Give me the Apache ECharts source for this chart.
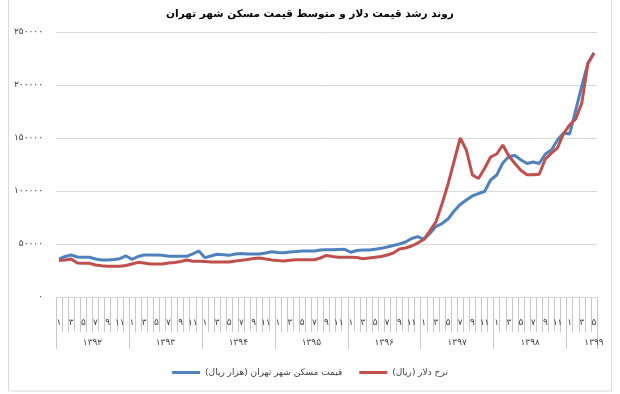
<!DOCTYPE html>
<html>
<head>
<meta charset="utf-8">
<script src="https://cdn.jsdelivr.net/npm/echarts@6/dist/echarts.min.js"></script>
<style>
html,body{margin:0;padding:0;background:#fff;}
#c{width:620px;height:394px;}
</style>
</head>
<body>
<div id="c"></div>
<script>
var title = 'روند رشد قیمت دلار و متوسط قیمت مسکن شهر تهران';
var years = ['۱۳۹۲','۱۳۹۳','۱۳۹۴','۱۳۹۵','۱۳۹۶','۱۳۹۷','۱۳۹۸','۱۳۹۹'];
var monthsPerYear = [12,12,12,12,12,12,12,5];
var seriesNames = ['\u200Fقیمت مسکن شهر تهران (هزار ریال)\u200F', '\u200Fنرخ دلار (ریال)\u200F'];
var yTicks = [0, 50000, 100000, 150000, 200000, 250000];

var housing = [
 35800,38200,39600,37700,37500,37500,35800,34900,34900,35400,36100,38700,
 35600,38200,39600,39600,39600,39300,38400,38400,38400,38400,40600,43400,
 37100,38700,40300,39800,39300,40600,41000,40600,40600,40600,41500,42700,
 42000,41800,42500,42900,43400,43400,43400,44300,44600,44600,44800,45000,
 42200,43900,44300,44300,45000,45900,47200,48600,50000,51900,55200,56900,
 54400,59900,66500,69300,73600,81100,87300,91500,95300,97600,99500,110400,
 115100,126400,132500,133500,129200,125900,127400,125900,134900,138700,148100,154700,
 153800,176400,199100,220500,230500
];
var dollar = [
 34400,34900,35800,32100,31900,31800,30200,29500,29100,29000,29000,29700,
 31100,32700,32100,31100,31100,31100,32100,32500,33500,34900,33700,33700,
 33500,33000,33000,33000,33000,34000,34600,35400,36300,36800,35800,34900,
 34400,34000,34600,35200,35200,35200,35200,36800,39200,38200,37500,37500,
 37500,37300,36100,36800,37500,38200,39600,41500,45300,46200,48100,50900,
 54200,62300,70800,87700,106600,128300,150000,138700,115100,111800,121200,132100,
 134900,143400,133000,125900,119300,115400,115400,115800,130200,135800,140600,154200,
 162300,167900,183000,220300,229900
];

var faDigits = ['۰','۱','۲','۳','۴','۵','۶','۷','۸','۹'];
function fa(n){ return String(n).replace(/[0-9]/g, function(d){ return faDigits[+d]; }); }

var categories = [];
var yearStarts = [];
var yearCenters = [];
var idx = 0;
for (var y = 0; y < years.length; y++) {
  yearStarts.push(idx);
  yearCenters.push(idx + (y === years.length - 1 ? 4.5 : 6));
  for (var m = 1; m <= monthsPerYear[y]; m++) { categories.push(fa(m)); idx++; }
}
yearStarts.push(idx);
var total = idx;

var FONT = 'DejaVu Sans';
var GRID = '#d9d9d9';
var TICK = '#c8c8c8';
var CLEAR = 'rgba(0,0,0,0)';
var chart = echarts.init(document.getElementById('c'), null, {renderer: 'canvas'});
chart.setOption({
  animation: false,
  title: {
    text: title, left: 'center', top: 4,
    textStyle: {fontSize: 10.5, fontWeight: 'bold', color: '#000', fontFamily: FONT}
  },
  legend: {
    bottom: 12, left: 'center', itemWidth: 28, itemHeight: 3, itemGap: 17,
    icon: 'rect',
    data: seriesNames,
    textStyle: {fontSize: 9, color: '#404040', fontFamily: FONT}
  },
  grid: [
    {left: 56, right: 23, top: 32, bottom: 97},
    {left: 56, right: 23, top: 297, height: 35},
    {left: 56, right: 23, top: 297, height: 52}
  ],
  xAxis: [{
    gridIndex: 0, type: 'category', data: categories,
    axisLine: {show: true, lineStyle: {color: GRID}},
    axisTick: {show: true, interval: 0, length: 35, lineStyle: {color: TICK, width: 1}},
    axisLabel: {interval: function(i){ return i % 2 === 0; }, margin: 21, fontSize: 9, color: '#404040', fontFamily: FONT}
  }, {
    gridIndex: 0, type: 'value', min: 0, max: total, position: 'bottom',
    axisLine: {show: false}, splitLine: {show: false},
    axisTick: {show: true, length: 52, customValues: yearStarts, lineStyle: {color: TICK, width: 1}},
    axisLabel: {
      customValues: yearCenters, margin: 41, fontSize: 9, color: '#404040', fontFamily: FONT,
      formatter: function(v){
        for (var k = 0; k < yearCenters.length; k++) if (Math.abs(yearCenters[k] - v) < 0.01) return years[k];
        return '';
      }
    }
  }, {
    gridIndex: 1, type: 'value', min: 0, max: total, interval: 1,
    axisLine: {show: false}, axisTick: {show: false}, axisLabel: {show: false},
    splitLine: {show: true, lineStyle: {color: TICK, width: 1}}
  }, {
    gridIndex: 2, type: 'value', min: 0, max: total, interval: 12,
    axisLine: {show: false}, axisTick: {show: false}, axisLabel: {show: false},
    splitLine: {show: true, lineStyle: {color: TICK, width: 1}}
  }],
  yAxis: [{
    gridIndex: 0, type: 'value', min: yTicks[0], max: yTicks[yTicks.length - 1], interval: 50000,
    axisLine: {show: false}, axisTick: {show: false},
    splitLine: {lineStyle: {color: [CLEAR, GRID, GRID, GRID, GRID, GRID]}},
    axisLabel: {margin: 13, fontSize: 9, color: '#404040', fontFamily: FONT, formatter: function(v){ return fa(v); }}
  }, {
    gridIndex: 1, type: 'value', min: 0, max: 1, show: false, splitLine: {show: false}
  }, {
    gridIndex: 2, type: 'value', min: 0, max: 1, show: false, splitLine: {show: false}
  }],
  series: [{
    name: seriesNames[0], type: 'line', data: housing, xAxisIndex: 0, yAxisIndex: 0,
    symbol: 'none',
    lineStyle: {width: 3, color: '#4F81BD'}, itemStyle: {color: '#4F81BD'}
  }, {
    name: seriesNames[1], type: 'line', data: dollar, xAxisIndex: 0, yAxisIndex: 0,
    symbol: 'none',
    lineStyle: {width: 3, color: '#C0504D'}, itemStyle: {color: '#C0504D'}
  }]
});
try {
  chart.setOption({
    graphic: [{
      type: 'rect', z: 100, shape: {x: 8.5, y: -2, width: 603, height: 393},
      style: {fill: 'none', stroke: GRID, lineWidth: 1}, silent: true
    }]
  });
} catch (e) {}
</script>
</body>
</html>
